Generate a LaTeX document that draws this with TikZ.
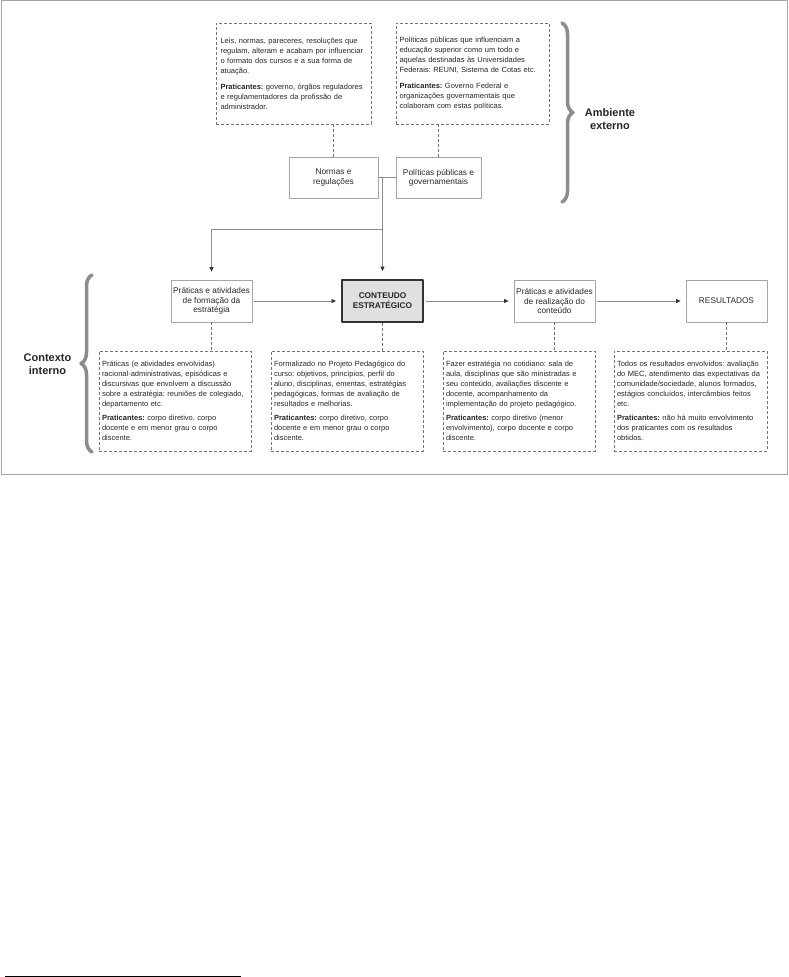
\documentclass[tikz,border=0pt]{standalone}
\usepackage{fontspec}
\setmainfont{Liberation Sans}
\usetikzlibrary{arrows.meta,decorations.pathreplacing}
\frenchspacing
\begin{document}
\begin{tikzpicture}[x=1pt,y=-1pt,line join=round,>={Triangle[length=4.5pt,width=4pt,color=black!80]}]
	\tikzset{every node/.style={text=black!85},
		nota/.style={draw=black!55,dash pattern=on 3pt off 2pt,line width=0.6pt,align=left,inner xsep=3pt,inner ysep=0pt,text width=146pt,minimum height=100pt,font=\fontsize{7.5}{10}\selectfont},
		caixa/.style={draw=black!35,line width=0.8pt,minimum width=81pt,minimum height=42pt,align=center,inner sep=0pt,font=\fontsize{8.3}{9.3}\selectfont},
		liga/.style={draw=black!45,line width=0.7pt},
		tracejado/.style={draw=black!55,dash pattern=on 3pt off 2pt,line width=0.7pt},
		chave/.style={draw=black!45,line width=3.5pt,line cap=round,decorate,decoration={brace,amplitude=11pt}},
		rotulo/.style={font=\fontsize{11}{13}\selectfont\bfseries,align=center}}
	\useasboundingbox (0,0) rectangle (788,977);
	\draw[black!35] (1,0.5) rectangle (787,474);
	\draw[line width=1pt] (5,976)--(241,976);
	\node[nota,inner xsep=4.5pt,minimum height=101pt] (leis) at (293.5,73.5) {Leis, normas, pareceres, resoluções que\\regulam, alteram e acabam por influenciar\\o formato dos cursos e a sua forma de\\atuação.\\[6pt]\textbf{Praticantes:} governo, órgãos reguladores\\e regulamentadores da profissão de\\administrador.};
	\node[nota,inner xsep=3.5pt,minimum height=101pt] (publicas) at (472.5,73.5) {Políticas públicas que influenciam a\\educação superior como um todo e\\aquelas destinadas às Universidades\\Federais: REUNI, Sistema de Cotas etc.\\[6pt]\textbf{Praticantes:} Governo Federal e\\organizações governamentais que\\colaboram com estas políticas.};
	\node[caixa,minimum width=89pt,minimum height=41pt] (normas) at (333.5,177.5) {Normas e\\regulações};
	\node[caixa,minimum width=85pt,minimum height=41pt] (politicas) at (438.5,177.5) {Políticas públicas e\\governamentais};
	\node[caixa] (formacao) at (211.5,301) {Práticas e atividades\\de formação da\\estratégia};
	\node[caixa,draw=black!80,line width=2pt,fill=black!12,font=\fontsize{8.3}{10}\selectfont\bfseries] (conteudo) at (382.5,301) {CONTEUDO\\ESTRATÉGICO};
	\node[caixa] (realizacao) at (554.5,301) {Práticas e atividades\\de realização do\\conteúdo};
	\node[caixa] (resultados) at (726.5,301) {RESULTADOS};
	\node[nota] (praticas) at (175,401) {Práticas (e atividades envolvidas)\\racional-administrativas, episódicas e\\discursivas que envolvem a discussão\\sobre a estratégia: reuniões de colegiado,\\departamento etc.\\[4pt]\textbf{Praticantes:} corpo diretivo, corpo\\docente e em menor grau o corpo\\discente.};
	\node[nota] (formalizado) at (347,401) {Formalizado no Projeto Pedagógico do\\curso: objetivos, princípios, perfil do\\aluno, disciplinas, ementas, estratégias\\pedagógicas, formas de avaliação de\\resultados e melhorias.\\[4pt]\textbf{Praticantes:} corpo diretivo, corpo\\docente e em menor grau o corpo\\discente.};
	\node[nota] (cotidiano) at (519,401) {Fazer estratégia no cotidiano: sala de\\aula, disciplinas que são ministradas e\\seu conteúdo, avaliações discente e\\docente, acompanhamento da\\implementação do projeto pedagógico.\\[4pt]\textbf{Praticantes:} corpo diretivo (menor\\envolvimento), corpo docente e corpo\\discente.};
	\node[nota,text width=147pt] (todos) at (690.5,401) {Todos os resultados envolvidos: avaliação\\do MEC, atendimento das expectativas da\\comunidade/sociedade, alunos formados,\\estágios concluídos, intercâmbios feitos\\etc.\\[4pt]\textbf{Praticantes:} não há muito envolvimento\\dos praticantes com os resultados\\obtidos.};
	\node[rotulo] (ambiente) at (610,119.5) {Ambiente\\externo};
	\node[rotulo] (contexto) at (47.5,364) {Contexto\\interno};
	\draw[tracejado] (leis.south -| normas.north)--(normas.north);
	\draw[tracejado] (publicas.south -| politicas.north)--(politicas.north);
	\draw[liga] (normas.east)--(politicas.west);
	\coordinate (juncao) at (normas.east -| conteudo.north);
	\coordinate (desvio) at (conteudo.north |- 0,229);
	\draw[liga,->,shorten >=8pt] (juncao)--(conteudo.north);
	\draw[liga,->,shorten >=8pt] (desvio)-|(formacao.north);
	\foreach \a/\b in {formacao/conteudo,conteudo/realizacao,realizacao/resultados}
	\draw[liga,->,shorten >=5pt,shorten <=2pt] (\a)--(\b);
	\foreach \a/\b in {formacao/praticas,conteudo/formalizado,realizacao/cotidiano,resultados/todos}
	\draw[tracejado] (\a.south)--(\a.south |- \b.north);
	\draw[chave] (562,23)--(562,202);
	\draw[chave] (92,452)--(92,275);
\end{tikzpicture}
\end{document}
